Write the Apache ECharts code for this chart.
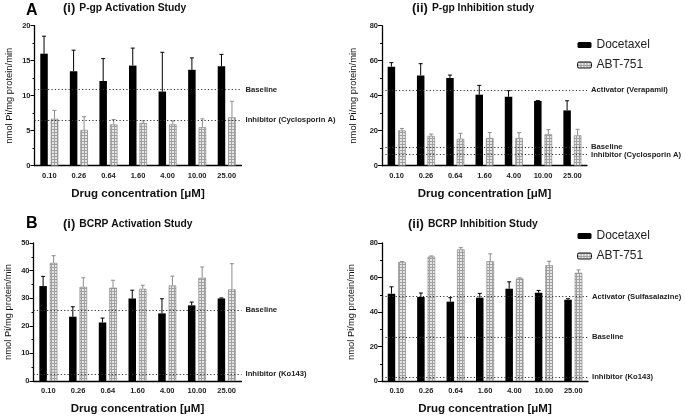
<!DOCTYPE html>
<html>
<head>
<meta charset="utf-8">
<script src="https://cdn.jsdelivr.net/npm/echarts@6/dist/echarts.min.js"></script>
<style>
	html, body { margin: 0; padding: 0; background: #fff; }
	#chart { width: 685px; height: 416px; }
</style>
</head>
<body>
<div id="chart"></div>
<script>
const concentrations = ['0.10', '0.26', '0.64', '1.60', '4.00', '10.00', '25.00'];

// A (i) P-gp activation
const pgpActDoc = [16.0, 13.5, 12.1, 14.3, 10.6, 13.7, 14.2];
const pgpActDocErr = [2.5, 3.0, 3.2, 2.5, 5.6, 1.7, 1.7];
const pgpActAbt = [6.7, 5.1, 5.9, 6.1, 5.9, 5.5, 6.9];
const pgpActAbtErr = [1.2, 1.9, 0.7, 0.3, 0.5, 1.2, 2.3];
const pgpActRefNames = ['Baseline', 'Inhibitor (Cyclosporin A)'];
const pgpActRefValues = [10.9, 6.5];

// A (ii) P-gp inhibition
const pgpInhDoc = [56.6, 51.6, 50.1, 40.6, 39.4, 37.0, 31.6];
const pgpInhDocErr = [2.3, 6.7, 1.7, 5.3, 3.5, 0.2, 5.5];
const pgpInhAbt = [20.2, 17.0, 15.4, 15.8, 15.8, 17.9, 17.3];
const pgpInhAbtErr = [1.1, 1.1, 3.1, 3.2, 3.1, 2.7, 3.5];
const pgpInhRefNames = ['Activator (Verapamil)', 'Baseline', 'Inhibitor (Cyclosporin A)'];
const pgpInhRefValues = [43.2, 10.8, 6.4];

// B (i) BCRP activation
const bcrpActDoc = [34.4, 23.3, 21.2, 29.9, 24.5, 27.4, 29.9];
const bcrpActDocErr = [3.5, 3.6, 1.6, 3.0, 5.3, 1.2, 0.2];
const bcrpActAbt = [42.8, 34.1, 33.8, 33.4, 34.6, 37.4, 33.2];
const bcrpActAbtErr = [2.6, 3.3, 2.7, 1.3, 3.4, 3.9, 9.3];
const bcrpActRefNames = ['Baseline', 'Inhibitor (Ko143)'];
const bcrpActRefValues = [25.8, 2.5];

// B (ii) BCRP inhibition
const bcrpInhDoc = [50.6, 48.7, 46.0, 48.3, 53.5, 51.2, 47.1];
const bcrpInhDocErr = [4.0, 2.3, 2.3, 2.5, 4.0, 1.3, 0.6];
const bcrpInhAbt = [69.0, 72.1, 76.3, 69.4, 59.4, 67.1, 62.7];
const bcrpInhAbtErr = [0.2, 0.4, 1.0, 4.3, 0.4, 2.3, 1.7];
const bcrpInhRefNames = ['Activator (Sulfasalazine)', 'Baseline', 'Inhibitor (Ko143)'];
const bcrpInhRefValues = [49.0, 25.6, 2.2];

const yMax = [20, 80, 50, 80];
const yInterval = [5, 20, 10, 20];

const FONT = '"Liberation Sans", Arial, sans-serif';
const BAR_W = 7.5;
const BAR_GAP = 0.4;

function hatchPattern() {
	const c = document.createElement('canvas');
	c.width = 3;
	c.height = 3;
	const ctx = c.getContext('2d');
	ctx.fillStyle = '#a0a0a0';
	ctx.fillRect(0, 0, 3, 3);
	ctx.fillStyle = '#e6e6e6';
	ctx.fillRect(1, 1, 2, 2);
	return { image: c, repeat: 'repeat' };
}
const hatch = hatchPattern();

function errorRenderer(shift) {
	return function (params, api) {
		const base = api.coord([api.value(0), api.value(1)]);
		const top = api.coord([api.value(0), api.value(1) + api.value(2)]);
		const x = base[0] + shift;
		const style = { stroke: api.visual('color'), lineWidth: 1 };
		return {
			type: 'group',
			children: [
				{ type: 'line', shape: { x1: x, y1: base[1], x2: x, y2: top[1] }, style },
				{ type: 'line', shape: { x1: x - 2, y1: top[1], x2: x + 2, y2: top[1] }, style }
			]
		};
	};
}

const shift = BAR_W * (1 + BAR_GAP) / 2;

function panelSeries(idx, doc, docErr, abt, abtErr, refNames, refValues) {
	return [
		{
			name: 'Docetaxel', type: 'bar', xAxisIndex: idx, yAxisIndex: idx,
			data: doc, barWidth: BAR_W, barGap: (BAR_GAP * 100) + '%',
			itemStyle: { color: '#000' },
			markLine: {
				silent: true, symbol: ['none', 'none'],
				lineStyle: { type: [1.2, 2.2], color: '#333', width: 1.1 },
				label: {
					position: 'end', formatter: '{b}', distance: 4,
					fontFamily: FONT, fontSize: 7.7, fontWeight: 'bold', color: '#222'
				},
				data: refNames.map((n, i) => ({ name: n, yAxis: refValues[i] }))
			}
		},
		{
			name: 'ABT-751', type: 'bar', xAxisIndex: idx, yAxisIndex: idx,
			data: abt, barWidth: BAR_W,
			itemStyle: { color: hatch, borderColor: '#7a7a7a', borderWidth: 0.6 }
		},
		{
			name: 'Docetaxel err', type: 'custom', xAxisIndex: idx, yAxisIndex: idx,
			renderItem: errorRenderer(-shift), itemStyle: { color: '#000' },
			encode: { x: 0, y: 1 }, z: 3,
			data: doc.map((v, i) => [i, v, docErr[i]])
		},
		{
			name: 'ABT-751 err', type: 'custom', xAxisIndex: idx, yAxisIndex: idx,
			renderItem: errorRenderer(shift), itemStyle: { color: '#8c8c8c' },
			encode: { x: 0, y: 1 }, z: 3,
			data: abt.map((v, i) => [i, v, abtErr[i]])
		}
	];
}

const grids = [
	{ left: 34.5, top: 25.7, width: 207, height: 140 },
	{ left: 382, top: 25.7, width: 205, height: 140 },
	{ left: 33.5, top: 243, width: 208, height: 139 },
	{ left: 382, top: 243, width: 206, height: 139 }
];
const yNameGaps = [21, 24, 21, 26];

const chart = echarts.init(document.getElementById('chart'), null, { renderer: 'canvas' });

const titleRich = {
	n: { fontFamily: FONT, fontSize: 13, fontWeight: 'bold', color: '#111' },
	t: { fontFamily: FONT, fontSize: 10.3, fontWeight: 'bold', color: '#111', padding: [0, 0, 0, 4] }
};

function panelTitle(num, text, left, top) {
	return { text: '{n|' + num + '}{t|' + text + '}', left, top, padding: 0, textStyle: { rich: titleRich } };
}

chart.setOption({
	animation: false,
	textStyle: { fontFamily: FONT },
	title: [
		{ text: 'A', left: 26, top: 3, padding: 0, textStyle: { fontFamily: FONT, fontSize: 16, fontWeight: 'bold', color: '#000' } },
		{ text: 'B', left: 26, top: 216, padding: 0, textStyle: { fontFamily: FONT, fontSize: 16, fontWeight: 'bold', color: '#000' } },
		panelTitle('(i)', 'P-gp Activation Study', 63, 2),
		panelTitle('(ii)', 'P-gp Inhibition study', 412, 2),
		panelTitle('(i)', 'BCRP Activation Study', 63, 218),
		panelTitle('(ii)', 'BCRP Inhibition Study', 408, 218)
	],
	legend: [
		{
			left: 572, top: 34, orient: 'vertical', itemWidth: 14, itemHeight: 6, itemGap: 8,
			textStyle: { fontFamily: FONT, fontSize: 12, color: '#222' },
			data: ['Docetaxel', { name: 'ABT-751', itemStyle: { borderColor: '#111', borderWidth: 1 } }]
		},
		{
			left: 572, top: 225, orient: 'vertical', itemWidth: 14, itemHeight: 6, itemGap: 8,
			textStyle: { fontFamily: FONT, fontSize: 12, color: '#222' },
			data: ['Docetaxel', { name: 'ABT-751', itemStyle: { borderColor: '#111', borderWidth: 1 } }]
		}
	],
	grid: grids,
	xAxis: grids.map((g, i) => ({
		type: 'category', gridIndex: i, data: concentrations,
		name: 'Drug concentration [μM]', nameLocation: 'middle', nameGap: 22,
		nameTextStyle: { fontFamily: FONT, fontSize: 11.5, fontWeight: 'bold', color: '#111' },
		axisLine: { lineStyle: { color: '#000', width: 1.3 } },
		axisTick: { alignWithLabel: true, length: 4, lineStyle: { color: '#000' } },
		axisLabel: { margin: 6, fontFamily: FONT, fontSize: 7.5, fontWeight: 'bold', color: '#222' }
	})),
	yAxis: grids.map((g, i) => ({
		type: 'value', gridIndex: i, min: 0, max: yMax[i], interval: yInterval[i],
		name: 'nmol Pi/mg protein/min', nameLocation: 'middle', nameGap: yNameGaps[i],
		nameTextStyle: { fontFamily: FONT, fontSize: 9.4, color: '#111' },
		axisLine: { show: true, lineStyle: { color: '#000', width: 1.3 } },
		axisTick: { show: true, length: 4, lineStyle: { color: '#000' } },
		minorTick: { show: true, splitNumber: 2, length: 2, lineStyle: { color: '#000' } },
		axisLabel: { margin: 4, fontFamily: FONT, fontSize: 7.5, fontWeight: 'bold', color: '#222' },
		splitLine: { show: false }
	})),
	series: [
		...panelSeries(0, pgpActDoc, pgpActDocErr, pgpActAbt, pgpActAbtErr, pgpActRefNames, pgpActRefValues),
		...panelSeries(1, pgpInhDoc, pgpInhDocErr, pgpInhAbt, pgpInhAbtErr, pgpInhRefNames, pgpInhRefValues),
		...panelSeries(2, bcrpActDoc, bcrpActDocErr, bcrpActAbt, bcrpActAbtErr, bcrpActRefNames, bcrpActRefValues),
		...panelSeries(3, bcrpInhDoc, bcrpInhDocErr, bcrpInhAbt, bcrpInhAbtErr, bcrpInhRefNames, bcrpInhRefValues)
	]
});

window.addEventListener('resize', () => chart.resize());
</script>
</body>
</html>
